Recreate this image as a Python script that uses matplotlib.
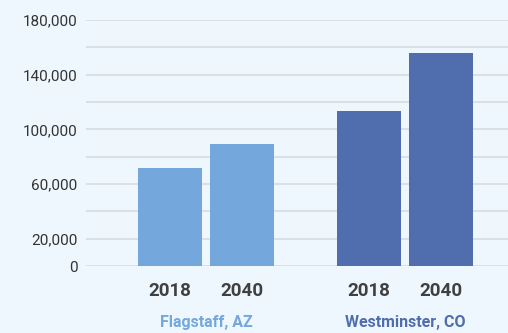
import matplotlib
matplotlib.use("Agg")
import matplotlib.pyplot as plt

groups = ["Flagstaff, AZ", "Westminster, CO"]
years = ["2018", "2040"]
values = [[71700, 89300], [113400, 155900]]
group_colors = ["#74A8DC", "#506DAE"]
tick_values = [0, 20000, 60000, 100000, 140000, 180000]
tick_labels = ["0", "20,000", "60,000", "100,000", "140,000", "180,000"]
grid_values = list(range(0, 180001, 20000))

bg = "#EEF7FD"
plt.rcParams["font.family"] = ["Roboto", "DejaVu Sans"]

fig = plt.figure(figsize=(5.08, 3.33), dpi=100, facecolor=bg)
ax = fig.add_axes([86/508, (333-266)/333, 1 - 86/508, (266-20)/333])
ax.set_facecolor(bg)

group_offset = 2.764
width = 64/72
positions = []
for gi, (g, vals) in enumerate(zip(groups, values)):
    xs = [gi*group_offset + j for j in range(len(vals))]
    positions.append(xs)
    ax.bar(xs, vals, width=width, color=group_colors[gi], zorder=3)

for gv in grid_values:
    ax.axhline(gv, color="#D6DCE0", lw=1.2, zorder=1)

ax.set_ylim(0, 180000)
ax.set_xlim(-1.167, 4.694)
ax.set_yticks(tick_values)
ax.set_yticklabels(tick_labels, fontsize=11, color="#333333")
ax.tick_params(axis="y", length=0, pad=6)
ax.set_xticks([])
for s in ax.spines.values():
    s.set_visible(False)

for gi, xs in enumerate(positions):
    for x, y in zip(xs, years):
        ax.annotate(y, xy=(x, 0), xycoords=("data", "axes fraction"),
                    xytext=(0, -25), textcoords="offset pixels",
                    ha="center", va="center", fontsize=13.5, fontweight="bold",
                    color="#404040")
    cx = sum(xs)/len(xs)
    ax.annotate(groups[gi], xy=(cx, 0), xycoords=("data", "axes fraction"),
                xytext=(0, -56), textcoords="offset pixels",
                ha="center", va="center", fontsize=11.5, fontweight="bold",
                color=group_colors[gi])

fig.savefig("out.png", dpi=100, facecolor=bg)
